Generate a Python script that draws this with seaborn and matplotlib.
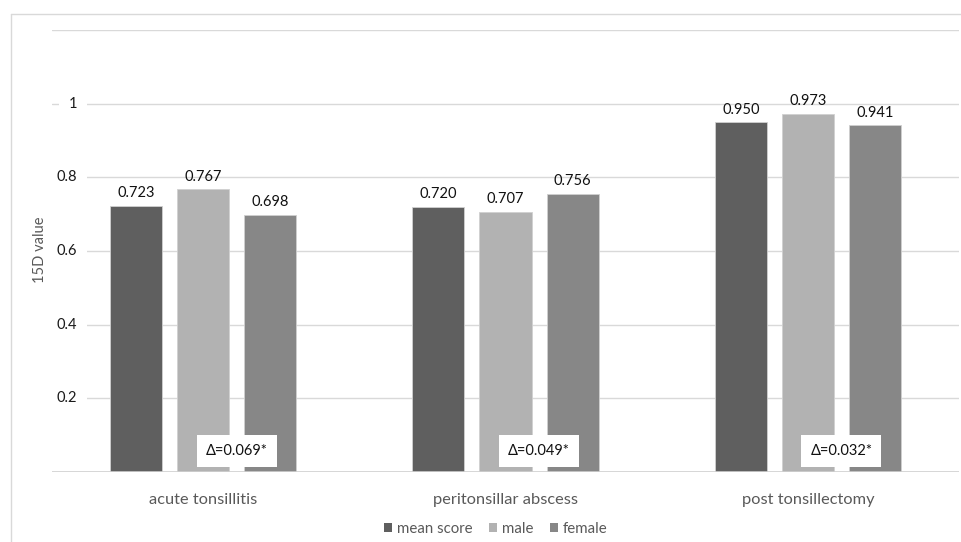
import matplotlib
matplotlib.use("Agg")
import matplotlib.pyplot as plt
import seaborn as sns
import pandas as pd
from matplotlib.lines import Line2D
from matplotlib.patches import Patch

categories = ["acute tonsillitis", "peritonsillar abscess", "post tonsillectomy"]
series = ["mean score", "male", "female"]
mean_score = [0.723, 0.720, 0.950]
male = [0.767, 0.707, 0.973]
female = [0.698, 0.756, 0.941]
deltas = ["Δ=0.069*", "Δ=0.049*", "Δ=0.032*"]
y_ticks = [0.2, 0.4, 0.6, 0.8, 1.0]
y_tick_labels = ["0.2", "0.4", "0.6", "0.8", "1"]
colors = ["#5f5f5f", "#b2b2b2", "#878787"]

rows = []
for s, vals in zip(series, [mean_score, male, female]):
    for c, v in zip(categories, vals):
        rows.append({"category": c, "series": s, "value": v})
df = pd.DataFrame(rows)

sns.set_style("white")
plt.rcParams["font.family"] = ["Lato", "DejaVu Sans"]

fig = plt.figure(figsize=(9.62, 5.42), dpi=100)
ax = fig.add_axes([52/962, 1-472/542, (959-52)/962, (472-30)/542])

sns.barplot(data=df, x="category", y="value", hue="series", order=categories,
            hue_order=series, palette=colors, width=0.665, gap=0.224,
            edgecolor="#d0d0d0", linewidth=0.6, ax=ax, legend=False, errorbar=None)

ax.set_xlim(-0.5, 2.5)
ax.set_ylim(0, 1.2)
for y in [0.2, 0.4, 0.6, 0.8, 1.0, 1.2]:
    ax.axhline(y, color="#d9d9d9", lw=1.0, zorder=0)
ax.axhline(0, color="#d0d0d0", lw=1.2, zorder=3)
for sp in ax.spines.values():
    sp.set_visible(False)
ax.set_yticks([])
ax.set_xticks(range(len(categories)))
ax.set_xticklabels(categories, fontsize=11.8, color="#595959")
ax.tick_params(axis="x", length=0, pad=15)
ax.set_xlabel("")
ax.set_ylabel("")

# y tick labels with white background (they interrupt gridlines)
for t, lab in zip(y_ticks, y_tick_labels):
    ax.text(0.028, t, lab, transform=ax.get_yaxis_transform(), ha="right", va="center",
            fontsize=10.5, color="#1a1a1a",
            bbox=dict(facecolor="white", edgecolor="none", pad=7), zorder=4)

fig.text(40/962, 1-250/542, "15D value", rotation=90, ha="center", va="center",
         fontsize=10.5, color="#595959")

# value labels
for container in ax.containers:
    ax.bar_label(container, labels=[f"{b.get_height():.3f}" for b in container],
                 padding=4, fontsize=10.5, color="#111111")

# delta boxes between male and female bars
male_c = ax.containers[1]
fem_c = ax.containers[2]
for i, d in enumerate(deltas):
    bm = male_c[i]
    bf = fem_c[i]
    xc = (bm.get_x() + bm.get_width() + bf.get_x()) / 2
    ax.text(xc, 0.056, d, ha="center", va="center", fontsize=10.5, color="#111111",
            bbox=dict(facecolor="white", edgecolor="none", boxstyle="square,pad=0.62"),
            zorder=5)

# legend
handles = [Patch(facecolor=c, edgecolor="none") for c in colors]
fig.legend(handles, series, loc="center", bbox_to_anchor=(496/962, 1-529/542), ncol=3,
           frameon=False, fontsize=10.8, handlelength=0.5, handleheight=0.5,
           handletextpad=0.35, columnspacing=1.1, labelcolor="#595959")

# outer border (light gray)
fig.add_artist(Line2D([11/962, 11/962], [0, 1-14/542], color="#d9d9d9", lw=1.0,
                      transform=fig.transFigure))
fig.add_artist(Line2D([11/962, 1], [1-14/542, 1-14/542], color="#d9d9d9", lw=1.0,
                      transform=fig.transFigure))

fig.savefig("out.png", dpi=100)
